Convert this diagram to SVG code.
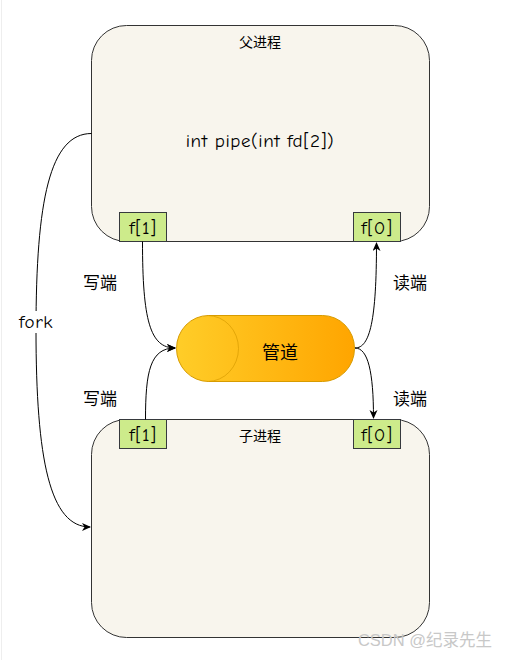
<svg xmlns="http://www.w3.org/2000/svg" width="508" height="660" viewBox="0 0 508 660">
<style>
.proc{fill:#f8f5ed;stroke:#333333;stroke-width:1}
.fd{fill:#cdeb8b;stroke:#36393d;stroke-width:1}
.t{font-family:"Comic Neue","Liberation Sans","Noto Sans CJK SC",sans-serif;fill:#000;letter-spacing:0.6px}
.cn{font-family:"Noto Sans CJK SC",sans-serif;fill:#000}
.edge{fill:none;stroke:#000;stroke-width:1}
</style>
<defs>
<linearGradient id="pg" x1="0" y1="0" x2="1" y2="0">
<stop offset="0" stop-color="#ffcd28"/>
<stop offset="1" stop-color="#ffa500"/>
</linearGradient>
<marker id="ar" markerWidth="10" markerHeight="10" refX="8" refY="4" orient="auto" markerUnits="userSpaceOnUse">
<path d="M0,0 L9,4 L0,8 L2.5,4 Z" fill="#000"/>
</marker>
</defs>
<rect x="0" y="0" width="508" height="660" fill="#fff"/>
<line x1="1.5" y1="0" x2="1.5" y2="660" stroke="#eeeeee"/>
<g id="parent">
<rect class="proc" x="91.5" y="25.5" width="338" height="216" rx="35" ry="35"/>
<text class="cn" x="260" y="47" font-size="14" text-anchor="middle">父进程</text>
<text class="t" x="260" y="147" font-size="19" text-anchor="middle">int pipe(int fd[2])</text>
</g>
<g id="parent-f1">
<rect class="fd" x="119.5" y="212.5" width="47" height="29"/>
<text class="t" x="143" y="234" font-size="19" text-anchor="middle">f[1]</text>
</g>
<g id="parent-f0">
<rect class="fd" x="353.5" y="212.5" width="47" height="29"/>
<text class="t" x="377" y="234" font-size="19" text-anchor="middle">f[0]</text>
</g>
<g id="child">
<rect class="proc" x="91.5" y="419.5" width="338" height="218" rx="35" ry="35"/>
<text class="cn" x="260" y="441" font-size="14" text-anchor="middle">子进程</text>
</g>
<g id="child-f1">
<rect class="fd" x="119.5" y="419.5" width="47" height="29"/>
<text class="t" x="143" y="441" font-size="19" text-anchor="middle">f[1]</text>
</g>
<g id="child-f0">
<rect class="fd" x="353.5" y="419.5" width="47" height="29"/>
<text class="t" x="377" y="441" font-size="19" text-anchor="middle">f[0]</text>
</g>
<g id="pipe">
<rect x="176.5" y="315.5" width="178" height="66" rx="32" ry="33" fill="url(#pg)" stroke="#d79b00"/>
<path d="M207.5,315.5 A31,33 0 0 1 207.5,381.5" fill="none" stroke="#d79b00" stroke-opacity="0.7"/>
<text class="cn" x="280" y="359" font-size="18" text-anchor="middle">管道</text>
</g>
<g id="connectors">
<path class="edge" d="M142.5,241.5 C142.5,320 150,348 175,348" marker-end="url(#ar)"/>
<path class="edge" d="M145.5,419.5 C145.5,372 150,348 175,348" marker-end="url(#ar)"/>
<path class="edge" d="M355,348 C370,348 376.5,320 376.5,243" marker-end="url(#ar)"/>
<path class="edge" d="M355,348 C368,348 373.5,372 373.5,418" marker-end="url(#ar)"/>
<path class="edge" d="M91.5,133.5 C50,133.5 36,200 36,330 C36,460 50,527 90,527" marker-end="url(#ar)"/>
</g>
<g id="labels">
<text class="cn" x="100" y="289" font-size="17" text-anchor="middle">写端</text>
<text class="cn" x="100" y="405" font-size="17" text-anchor="middle">写端</text>
<text class="cn" x="410" y="289" font-size="17" text-anchor="middle">读端</text>
<text class="cn" x="410" y="405" font-size="17" text-anchor="middle">读端</text>
<rect x="14" y="311" width="44" height="22" fill="#fff"/>
<text class="t" x="36" y="328" font-size="19" text-anchor="middle">fork</text>
</g>
<text x="425" y="646" font-size="16.5" text-anchor="middle" fill="#c8c8c8" style="font-family:'Liberation Sans','Noto Sans CJK SC',sans-serif">CSDN @纪录先生</text>
</svg>
